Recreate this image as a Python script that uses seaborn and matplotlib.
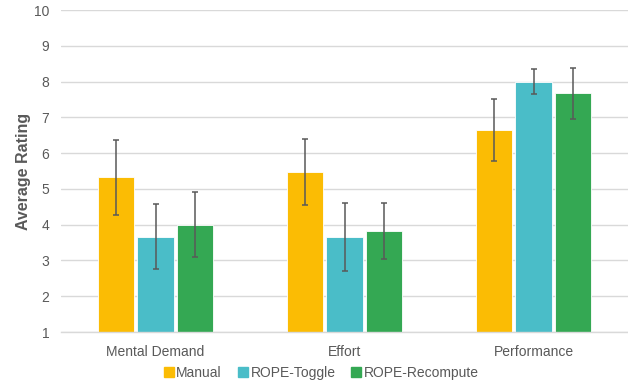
import matplotlib
matplotlib.use("Agg")
import matplotlib.pyplot as plt
import seaborn as sns
import pandas as pd
import numpy as np

categories = ["Mental Demand", "Effort", "Performance"]
conditions = ["Manual", "ROPE-Toggle", "ROPE-Recompute"]
manual_mean = [5.33, 5.48, 6.65]
toggle_mean = [3.66, 3.66, 8.00]
recompute_mean = [4.00, 3.83, 7.67]
manual_err = [1.05, 0.92, 0.86]
toggle_err = [0.91, 0.95, 0.36]
recompute_err = [0.90, 0.78, 0.72]
colors = ["#FBBC04", "#4ABDC8", "#34A853"]

rows = []
for cond, means, errs in [("Manual", manual_mean, manual_err),
                          ("ROPE-Toggle", toggle_mean, toggle_err),
                          ("ROPE-Recompute", recompute_mean, recompute_err)]:
    for c, m, e in zip(categories, means, errs):
        rows.append({"Category": c, "Condition": cond, "Mean": m, "Err": e})
df = pd.DataFrame(rows)

sns.set_theme(style="white")
plt.rcParams["font.family"] = ["Liberation Sans", "DejaVu Sans"]

fig = plt.figure(figsize=(6.28, 3.83), dpi=100)
ax = fig.add_axes([61/628, 1 - 332/383, 567/628, 322/383])

sns.barplot(data=df, x="Category", y="Mean", hue="Condition", order=categories,
            hue_order=conditions, palette=colors, width=0.626, gap=0.065,
            errorbar=None, ax=ax, edgecolor="white", linewidth=0.6, saturation=1, zorder=2)

# error bars from the bars drawn by seaborn
for cond, cont in zip(conditions, ax.containers):
    sub = df[df["Condition"] == cond].set_index("Category").loc[categories]
    xs = [p.get_x() + p.get_width() / 2 for p in cont.patches]
    ys = [p.get_height() + p.get_y() for p in cont.patches]
    ax.errorbar(xs, ys, yerr=sub["Err"].values, fmt="none", ecolor="#595959",
                elinewidth=1.1, capsize=2.5, capthick=1.1, zorder=3)

ax.set_ylim(1, 10)
ax.set_xlim(-0.5, 2.5)
ax.set_yticks(range(1, 11))
ax.yaxis.grid(True, color="#D9D9D9", linewidth=1)
ax.set_axisbelow(True)
for s in ["top", "right", "left"]:
    ax.spines[s].set_visible(False)
ax.spines["bottom"].set_color("#D9D9D9")
ax.spines["bottom"].set_linewidth(1)
ax.tick_params(axis="both", length=0, colors="#595959", labelsize=10)
ax.tick_params(axis="y", pad=8.5)
ax.tick_params(axis="x", pad=9)
ax.set_xlabel("")
ax.set_ylabel("Average Rating", fontsize=11.5, fontweight="bold", color="#595959", labelpad=2)

ax.legend_.remove()
handles = [plt.Line2D([], [], marker="s", linestyle="none", markersize=6.5,
                      markerfacecolor=c, markeredgecolor=c) for c in colors]
fig.legend(handles, conditions, loc="center", bbox_to_anchor=(321/628, 1 - 373/383),
           ncol=3, frameon=False, fontsize=10, labelcolor="#595959",
           handletextpad=0.15, columnspacing=1.1, handlelength=0.8)

fig.savefig("out.png", dpi=100)
